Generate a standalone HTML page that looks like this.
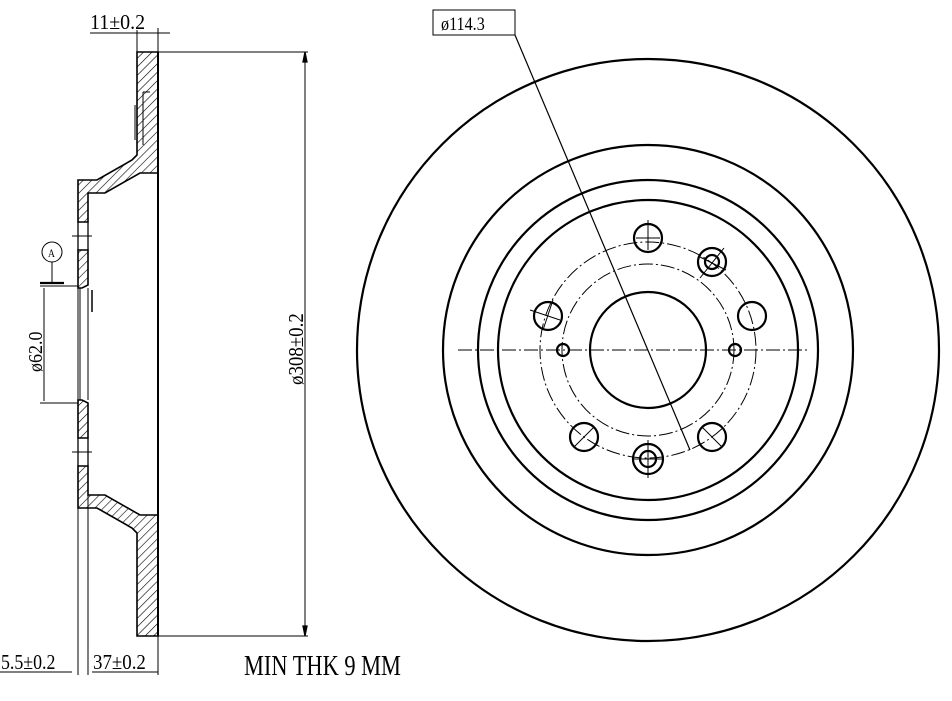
<!DOCTYPE html>
<html><head><meta charset="utf-8"><style>
html,body{margin:0;padding:0;background:#fff;}
svg{display:block}
text{font-family:"Liberation Serif",serif;fill:#000}
</style></head><body>
<svg width="952" height="701" viewBox="0 0 952 701" xmlns="http://www.w3.org/2000/svg">
<defs>
<pattern id="h" width="6" height="6" patternUnits="userSpaceOnUse" patternTransform="rotate(45)">
<line x1="0" y1="0" x2="0" y2="6" stroke="#000" stroke-width="1.2"/>
</pattern>
</defs>
<g stroke="#000" fill="none" stroke-width="1.3">
<path d="M137,52 L158,52 L158,173 L140,173 L105,193 L88,193 L88,222 L78,222 L78,180 L97,180 L132,160 L137,155 Z" fill="url(#h)" stroke-width="1.6"/>
<path d="M88,250 L88,285 L82,288 L78,288 L78,250 Z" fill="url(#h)" stroke-width="1.6"/>
<path d="M137,636 L158,636 L158,515 L140,515 L105,495 L88,495 L88,466 L78,466 L78,508 L97,508 L132,528 L137,533 Z" fill="url(#h)" stroke-width="1.6"/>
<path d="M88,438 L88,403 L82,400 L78,400 L78,438 Z" fill="url(#h)" stroke-width="1.6"/>
<line x1="158" y1="52" x2="158" y2="636" stroke-width="2"/>
<line x1="78" y1="222" x2="78" y2="250"/><line x1="88" y1="222" x2="88" y2="250"/>
<line x1="78" y1="438" x2="78" y2="466"/><line x1="88" y1="438" x2="88" y2="466"/>
<line x1="78" y1="288" x2="78" y2="675" stroke-width="1"/>
<line x1="80" y1="288" x2="80" y2="400" stroke-width="1"/>
<line x1="88" y1="403" x2="88" y2="675" stroke-width="1"/>
<line x1="88" y1="288" x2="88" y2="400" stroke-width="1"/>
<line x1="92" y1="290" x2="92" y2="312" stroke-width="1.5"/>
<line x1="72" y1="236" x2="92" y2="236" stroke-width="1"/>
<line x1="72" y1="452" x2="92" y2="452" stroke-width="1"/>
<line x1="143" y1="92" x2="150" y2="92" stroke-width="1"/>
<line x1="143" y1="92" x2="143" y2="145" stroke-width="1"/>
<line x1="135" y1="105" x2="135" y2="140" stroke-width="1"/>
<line x1="158" y1="52" x2="308" y2="52" stroke-width="1"/>
<line x1="158" y1="636" x2="308" y2="636" stroke-width="1"/>
<line x1="305" y1="55" x2="305" y2="633" stroke-width="1"/>
<path d="M305,52 L303,62 L307,62 Z" fill="#000"/>
<path d="M305,636 L303,626 L307,626 Z" fill="#000"/>
<line x1="137" y1="30" x2="137" y2="52" stroke-width="1"/>
<line x1="158" y1="28" x2="158" y2="52" stroke-width="1"/>
<line x1="90" y1="33" x2="170" y2="33" stroke-width="1"/>
<line x1="40" y1="286" x2="78" y2="286" stroke-width="1"/>
<line x1="40" y1="403" x2="78" y2="403" stroke-width="1"/>
<line x1="44" y1="288" x2="44" y2="401" stroke-width="1"/>
<line x1="40" y1="283" x2="64" y2="283" stroke-width="2.2"/>
<line x1="52" y1="262" x2="52" y2="283" stroke-width="1"/>
<circle cx="52" cy="252" r="10" stroke-width="1"/>
<line x1="0" y1="672" x2="72" y2="672" stroke-width="1"/>
<line x1="92" y1="672" x2="158" y2="672" stroke-width="1"/>
<line x1="158" y1="636" x2="158" y2="675" stroke-width="1"/>
<g stroke-width="2.2">
<circle cx="648" cy="350" r="291"/>
<circle cx="648" cy="350" r="205"/>
<circle cx="648" cy="350" r="170"/>
<circle cx="648" cy="350" r="150"/>
<circle cx="648" cy="350" r="58"/>
<circle cx="563" cy="350" r="6"/>
<circle cx="735" cy="350" r="6"/>
<circle cx="648" cy="238" r="14"/>
<circle cx="712" cy="262" r="14"/><circle cx="712" cy="262" r="7"/>
<circle cx="548" cy="316" r="14"/>
<circle cx="752" cy="316" r="14"/>
<circle cx="584" cy="437" r="14"/>
<circle cx="712" cy="437" r="14"/>
<circle cx="648" cy="459" r="15"/><circle cx="648" cy="459" r="8"/>
</g>
<g stroke-width="1">
<line x1="648" y1="220" x2="648" y2="250"/><line x1="636" y1="238" x2="660" y2="238"/>
<line x1="724" y1="248" x2="700" y2="278"/><line x1="698" y1="256" x2="726" y2="270"/>
<line x1="530" y1="310" x2="560" y2="320"/><line x1="553" y1="300" x2="543" y2="330"/>
<line x1="574" y1="447" x2="594" y2="427"/><line x1="702" y1="427" x2="722" y2="447"/>
<line x1="648" y1="440" x2="648" y2="478"/><line x1="634" y1="459" x2="662" y2="459"/>
</g>
<g stroke-width="1" stroke-dasharray="14,3,2,3">
<circle cx="648" cy="350" r="108"/>
<circle cx="648" cy="350" r="86"/>
<line x1="458" y1="350" x2="810" y2="350"/>
</g>
<line x1="515" y1="35" x2="690" y2="450" stroke-width="1.2"/>
<rect x="433" y="10" width="82" height="25" stroke-width="1"/>
</g>
<text font-size="19" transform="translate(441,30) scale(0.85,1)">ø114.3</text>
<text font-size="21" transform="translate(90,29) scale(0.95,1)">11±0.2</text>
<text font-size="21" transform="translate(1,669) scale(0.85,1)">5.5±0.2</text>
<text font-size="21" transform="translate(93,669) scale(0.9,1)">37±0.2</text>
<text font-size="21" transform="translate(303,385) rotate(-90) scale(0.9,1)">ø308±0.2</text>
<text font-size="20" transform="translate(42,372) rotate(-90) scale(0.9,1)">ø62.0</text>
<text font-size="12" transform="translate(48,257) scale(0.8,1)">A</text>
<text font-size="28" transform="translate(244,675) scale(0.8,1)">MIN THK 9 MM</text>
</svg>
</body></html>
